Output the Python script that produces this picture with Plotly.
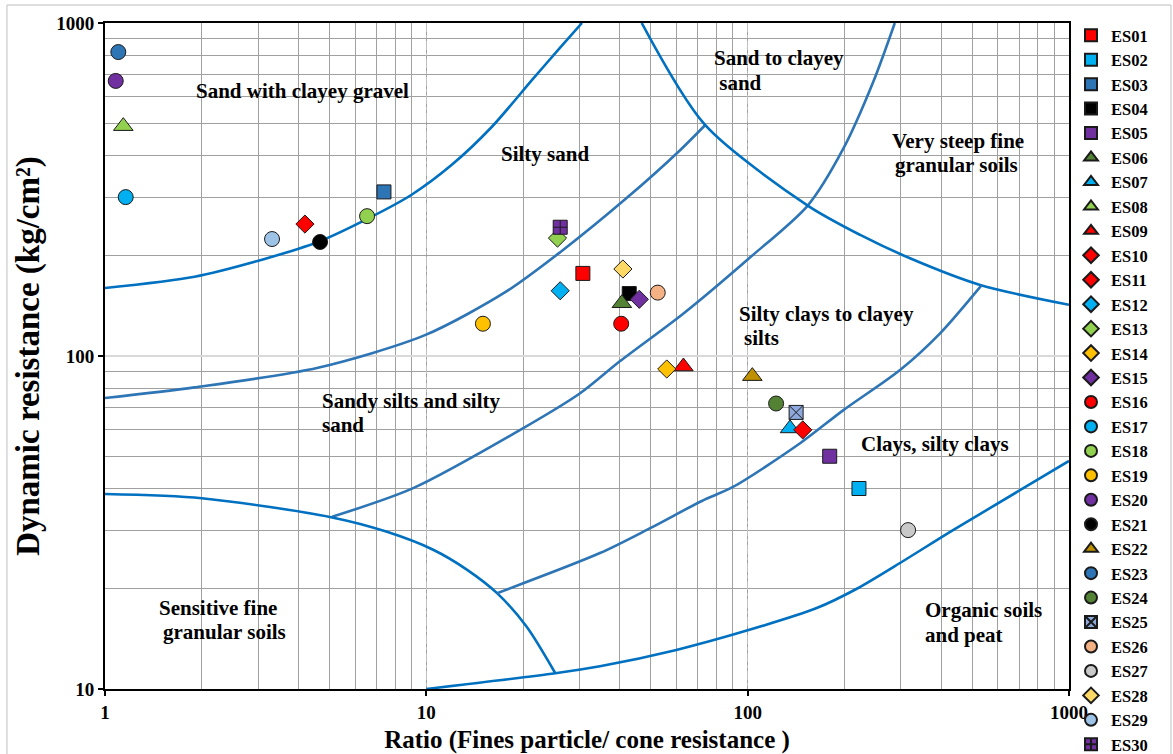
import math
import plotly.graph_objects as go

# ---- sample measurements: fines/cone ratio and dynamic resistance (kg/cm2) ----
samples = ["ES01", "ES02", "ES03", "ES04", "ES05", "ES06", "ES07", "ES08", "ES09", "ES10",
           "ES11", "ES12", "ES13", "ES14", "ES15", "ES16", "ES17", "ES18", "ES19", "ES20",
           "ES21", "ES22", "ES23", "ES24", "ES25", "ES26", "ES27", "ES28", "ES29", "ES30"]
ratio = [30.7, 222, 7.38, 42.8, 180, 40.6, 135.5, 1.14, 63.1, 4.19,
         148.4, 26.1, 25.6, 56.0, 46.0, 40.4, 1.16, 6.54, 15.0, 1.08,
         4.67, 103.4, 1.10, 122.6, 141.5, 52.5, 315.7, 40.9, 3.31, 26.1]
resistance = [177, 40, 311, 154, 50, 144, 60.6, 490, 93, 249,
              60, 157, 226, 91.4, 148, 125, 300, 263, 125, 670,
              220, 87, 818, 72, 67.7, 155, 30, 182.5, 224.5, 243.6]

# marker style per sample
symbols = ["square", "square", "square", "square", "square",
           "triangle-up", "triangle-up", "triangle-up", "triangle-up",
           "diamond", "diamond", "diamond", "diamond", "diamond", "diamond",
           "circle", "circle", "circle", "circle", "circle", "circle",
           "triangle-up", "circle", "circle", "square-x", "circle", "circle",
           "diamond", "circle", "square-cross"]
colors = ["#FF0000", "#00B0F0", "#2E75B6", "#000000", "#7030A0",
          "#548235", "#00B0F0", "#92D050", "#FF0000",
          "#FF0000", "#FF0000", "#00B0F0", "#92D050", "#FFC000", "#7030A0",
          "#FF0000", "#00B0F0", "#92D050", "#FFC000", "#7030A0", "#000000",
          "#BF9000", "#2E75B6", "#548235", "#8EA9DB", "#F4B183", "#C9C9C9",
          "#FFD966", "#9DC3E6", "#7030A0"]
symbol_size = {"circle": 15, "square": 14, "diamond": 14, "triangle-up": 17,
               "square-x": 14, "square-cross": 14}

# ---- soil classification boundaries ----
gravel_x = [1, 1.9, 3.1, 4.6, 6.6, 9, 12, 16, 21.4, 26, 30.5]
gravel_y = [160, 173, 195, 220, 259, 305, 375, 488, 677, 840, 1000]

silty_sand_x = [1, 1.9, 4.6, 9.9, 17.7, 26.1, 42, 61.6, 73.8]
silty_sand_y = [74.8, 80.5, 92.2, 115.5, 156, 205, 298, 415, 494]

sandy_silt_x = [5.09, 9.1, 19.6, 30.1, 40, 63, 100, 153.8, 198.6, 246, 287]
sandy_silt_y = [32.9, 40.1, 60, 77.3, 96.4, 134, 195, 283, 420, 666, 1000]

steep_x = [46.8, 73.7, 153.8, 224, 320, 529, 1000]
steep_y = [1000, 494, 283, 231, 196.5, 163.4, 142.5]

sensitive_x = [1, 2, 5.05, 7.5, 10.5, 13.4, 16.6, 20.5, 25.2]
sensitive_y = [38.5, 37.4, 32.8, 29.7, 26.2, 22.8, 19.4, 15.4, 11.15]

silty_clay_x = [16.6, 34.7, 49.7, 72, 90.3, 145.6, 198.6, 298, 397, 534]
silty_clay_y = [19.4, 25.6, 30.4, 36.7, 40.5, 54.7, 68.8, 90.8, 117, 163]

organic_x = [10, 25.2, 34.7, 60, 100, 164, 218.6, 298, 435.6, 1000]
organic_y = [10, 11.15, 11.7, 13.1, 15.0, 17.5, 20, 23.9, 30, 48.4]

boundaries = [
    (gravel_x, gravel_y, "#0070C0"),
    (silty_sand_x, silty_sand_y, "#2E75B6"),
    (sandy_silt_x, sandy_silt_y, "#2E75B6"),
    (steep_x, steep_y, "#0070C0"),
    (sensitive_x, sensitive_y, "#0070C0"),
    (silty_clay_x, silty_clay_y, "#2E75B6"),
    (organic_x, organic_y, "#0070C0"),
]

# ---- zone labels (one entry per text line) ----
label_text = ["Sand with clayey gravel", "Silty sand",
              "Sand to clayey", " sand",
              "Very steep fine", "granular soils",
              "Silty clays to clayey", "silts",
              "Sandy silts and silty", "sand",
              "Clays, silty clays",
              "Sensitive fine", "granular soils",
              "Organic soils", "and peat"]
label_x = [4.13, 23.4, 77.5, 77.5, 450, 447, 92.7, 96.1, 4.67, 4.67, 384, 2.24, 2.36, 352, 352]
label_y = [625, 404, 783, 659, 442, 375, 133.7, 113.2, 73.4, 62.1, 54.4, 17.55, 14.86, 17.27, 14.53]
label_anchor = ["center", "center", "left", "left", "center", "center", "left", "left",
                "left", "left", "center", "center", "center", "left", "left"]

x_tick_vals = [1, 10, 100, 1000]
x_tick_text = ["1", "10", "100", "1000"]
y_tick_vals = [10, 100, 1000]
y_tick_text = ["10", "100", "1000"]

SERIF = "Liberation Serif, Times New Roman, serif"

fig = go.Figure()

for bx, by, bc in boundaries:
    fig.add_trace(go.Scatter(
        x=bx, y=by, mode="lines",
        line=dict(color=bc, width=2.6, shape="spline", smoothing=0.8),
        showlegend=False, hoverinfo="skip"))

for name, rx, ry, sym, col in zip(samples, ratio, resistance, symbols, colors):
    fig.add_trace(go.Scatter(
        x=[rx], y=[ry], mode="markers", name="<b>" + name + "</b>",
        marker=dict(symbol=sym, color=col, size=symbol_size[sym],
                    line=dict(color="#1a1a1a", width=1))))

# annotations on log axes are placed in log10 units
for txt, lx, ly, anc in zip(label_text, label_x, label_y, label_anchor):
    shown = txt.replace(" ", "&nbsp;", 1) if txt.startswith(" ") else txt
    fig.add_annotation(
        x=math.log10(lx), y=math.log10(ly), xref="x", yref="y",
        text="<b>" + shown + "</b>",
        showarrow=False, xanchor=anc, yanchor="middle", align="left",
        font=dict(family=SERIF, size=21, color="#000000"))

axis_common = dict(
    type="log",
    ticks="outside", ticklen=5, tickwidth=1.5, tickcolor="#000000",
    showline=True, linecolor="#000000", linewidth=2, mirror=True,
    zeroline=False,
    tickfont=dict(family=SERIF, size=19, color="#000000"),
)

fig.update_xaxes(
    **axis_common,
    range=[0, 3],
    tickmode="array", tickvals=x_tick_vals, ticktext=["<b>" + t + "</b>" for t in x_tick_text],
    showgrid=True, gridcolor="#C0C0C0", gridwidth=1, griddash="dashdot",
    minor=dict(tickmode="linear", dtick="D1", showgrid=True, gridcolor="#A0A0A0",
               gridwidth=1.3, griddash="solid", ticks=""),
    title=dict(text="<b>Ratio (Fines particle/ cone resistance )</b>",
               font=dict(family=SERIF, size=25, color="#000000"), standoff=20),
)
fig.update_yaxes(
    **axis_common,
    range=[1, 3],
    tickmode="array", tickvals=y_tick_vals, ticktext=["<b>" + t + "</b>" for t in y_tick_text],
    showgrid=True, gridcolor="#D9D9D9", gridwidth=1.5,
    minor=dict(tickmode="linear", dtick="D1", showgrid=True, gridcolor="#A0A0A0",
               gridwidth=1.3, griddash="solid", ticks=""),
    title=dict(text="<b>Dynamic resistance (kg/cm²)</b>",
               font=dict(family=SERIF, size=33, color="#000000"), standoff=7),
)

# thin frame around the whole chart area
fig.add_shape(type="rect", xref="paper", yref="paper",
              x0=-0.1017, x1=1.1058, y0=-0.12, y1=1.027,
              line=dict(color="#BFBFBF", width=1), fillcolor="rgba(0,0,0,0)", layer="below")

fig.update_layout(
    width=1173, height=754,
    margin=dict(l=105, r=104, t=23, b=65, autoexpand=False),
    paper_bgcolor="#FFFFFF", plot_bgcolor="#FFFFFF",
    font=dict(family=SERIF, color="#000000"),
    showlegend=True,
    legend=dict(
        xref="container", yref="container",
        x=1071 / 1173, y=1 - 18 / 754, xanchor="left", yanchor="top",
        bgcolor="rgba(0,0,0,0)", borderwidth=0,
        font=dict(family=SERIF, size=16.5, color="#000000"),
        itemsizing="constant", tracegroupgap=0, maxheight=780,
    ),
)

fig.write_html("out.html")
